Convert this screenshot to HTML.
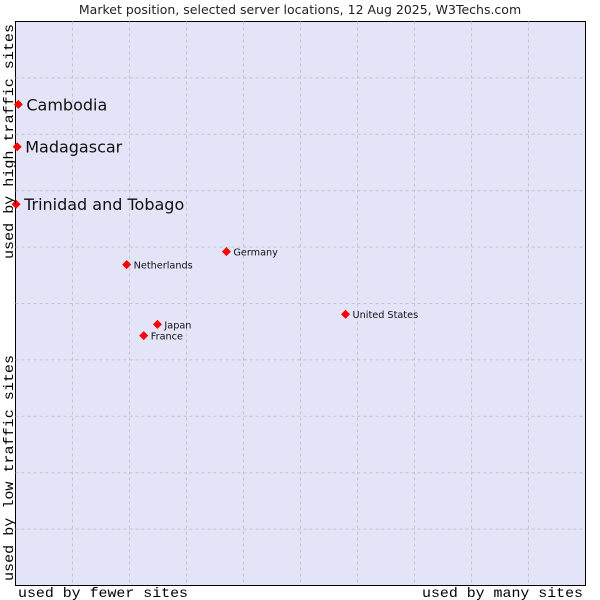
<!DOCTYPE html>
<html><head><meta charset="utf-8"><style>
body{margin:0;background:#fff;width:600px;height:600px;overflow:hidden}
svg{display:block}
</style></head><body>
<svg id="chart" width="600" height="600" font-family="DejaVu Sans, sans-serif">
<text x="300" y="14" text-anchor="middle" font-size="12.5" fill="#222">Market position, selected server locations, 12 Aug 2025, W3Techs.com</text>
<rect x="15.5" y="21.5" width="570" height="564" fill="#e3e4f8" stroke="#000"/>
<g id="grid"></g>
<g id="marks"></g>
<text x="18" y="597" font-family="Liberation Mono, monospace" font-size="14" textLength="170" lengthAdjust="spacingAndGlyphs" fill="#000">used by fewer sites</text>
<text x="583" y="597" text-anchor="end" font-family="Liberation Mono, monospace" font-size="14" textLength="161" lengthAdjust="spacingAndGlyphs" fill="#000">used by many sites</text>
<text transform="translate(13,581) rotate(-90)" font-family="Liberation Mono, monospace" font-size="14" textLength="226" lengthAdjust="spacingAndGlyphs" fill="#000">used by low traffic sites</text>
<text transform="translate(13,259) rotate(-90)" font-family="Liberation Mono, monospace" font-size="14" textLength="235" lengthAdjust="spacingAndGlyphs" fill="#000">used by high traffic sites</text>
</svg>
<script>
const names=["Cambodia","Madagascar","Trinidad and Tobago","Netherlands","Germany","Japan","France","United States"];
const xVals=[0.5,0.3,0.1,19.5,37,24.9,22.5,57.9];
const yVals=[85.3,77.8,67.6,56.9,59.2,46.3,44.3,48.1];
const bigLabel=[true,true,true,false,false,false,false,false];
const L=15.5,T=21.5,W=570,H=564;
const sx=v=>L+v/100*W, sy=v=>T+H-v/100*H;
const ns="http://www.w3.org/2000/svg";
const grid=document.getElementById('grid');
for(let i=1;i<10;i++){
 const a=document.createElementNS(ns,'line');
 a.setAttribute('x1',sx(i*10));a.setAttribute('x2',sx(i*10));a.setAttribute('y1',T);a.setAttribute('y2',T+H);
 a.setAttribute('stroke','#c4c4c4');a.setAttribute('stroke-dasharray','3,3');
 
 
 grid.appendChild(a);
 const b=document.createElementNS(ns,'line');
 b.setAttribute('y1',sy(i*10));b.setAttribute('y2',sy(i*10));b.setAttribute('x1',L);b.setAttribute('x2',L+W);
 b.setAttribute('stroke','#c4c4c4');b.setAttribute('stroke-dasharray','3,3');
 
 
 grid.appendChild(b);
}
const marks=document.getElementById('marks');
names.forEach((n,i)=>{
 const x=sx(xVals[i]),y=sy(yVals[i]);
 const p=document.createElementNS(ns,'path');
 p.setAttribute('d',`M${x} ${y-4.5}L${x+4.5} ${y}L${x} ${y+4.5}L${x-4.5} ${y}Z`);
 p.setAttribute('fill','#f00');
 
 
 marks.appendChild(p);
 const t=document.createElementNS(ns,'text');
 t.setAttribute('x',x+(bigLabel[i]?8:7));
 t.setAttribute('y',y+(bigLabel[i]?6:4));
 t.setAttribute('font-size',bigLabel[i]?16:9.7);
 t.setAttribute('fill','#111');
 t.textContent=n;
 
 
 marks.appendChild(t);
});
</script>
</body></html>
